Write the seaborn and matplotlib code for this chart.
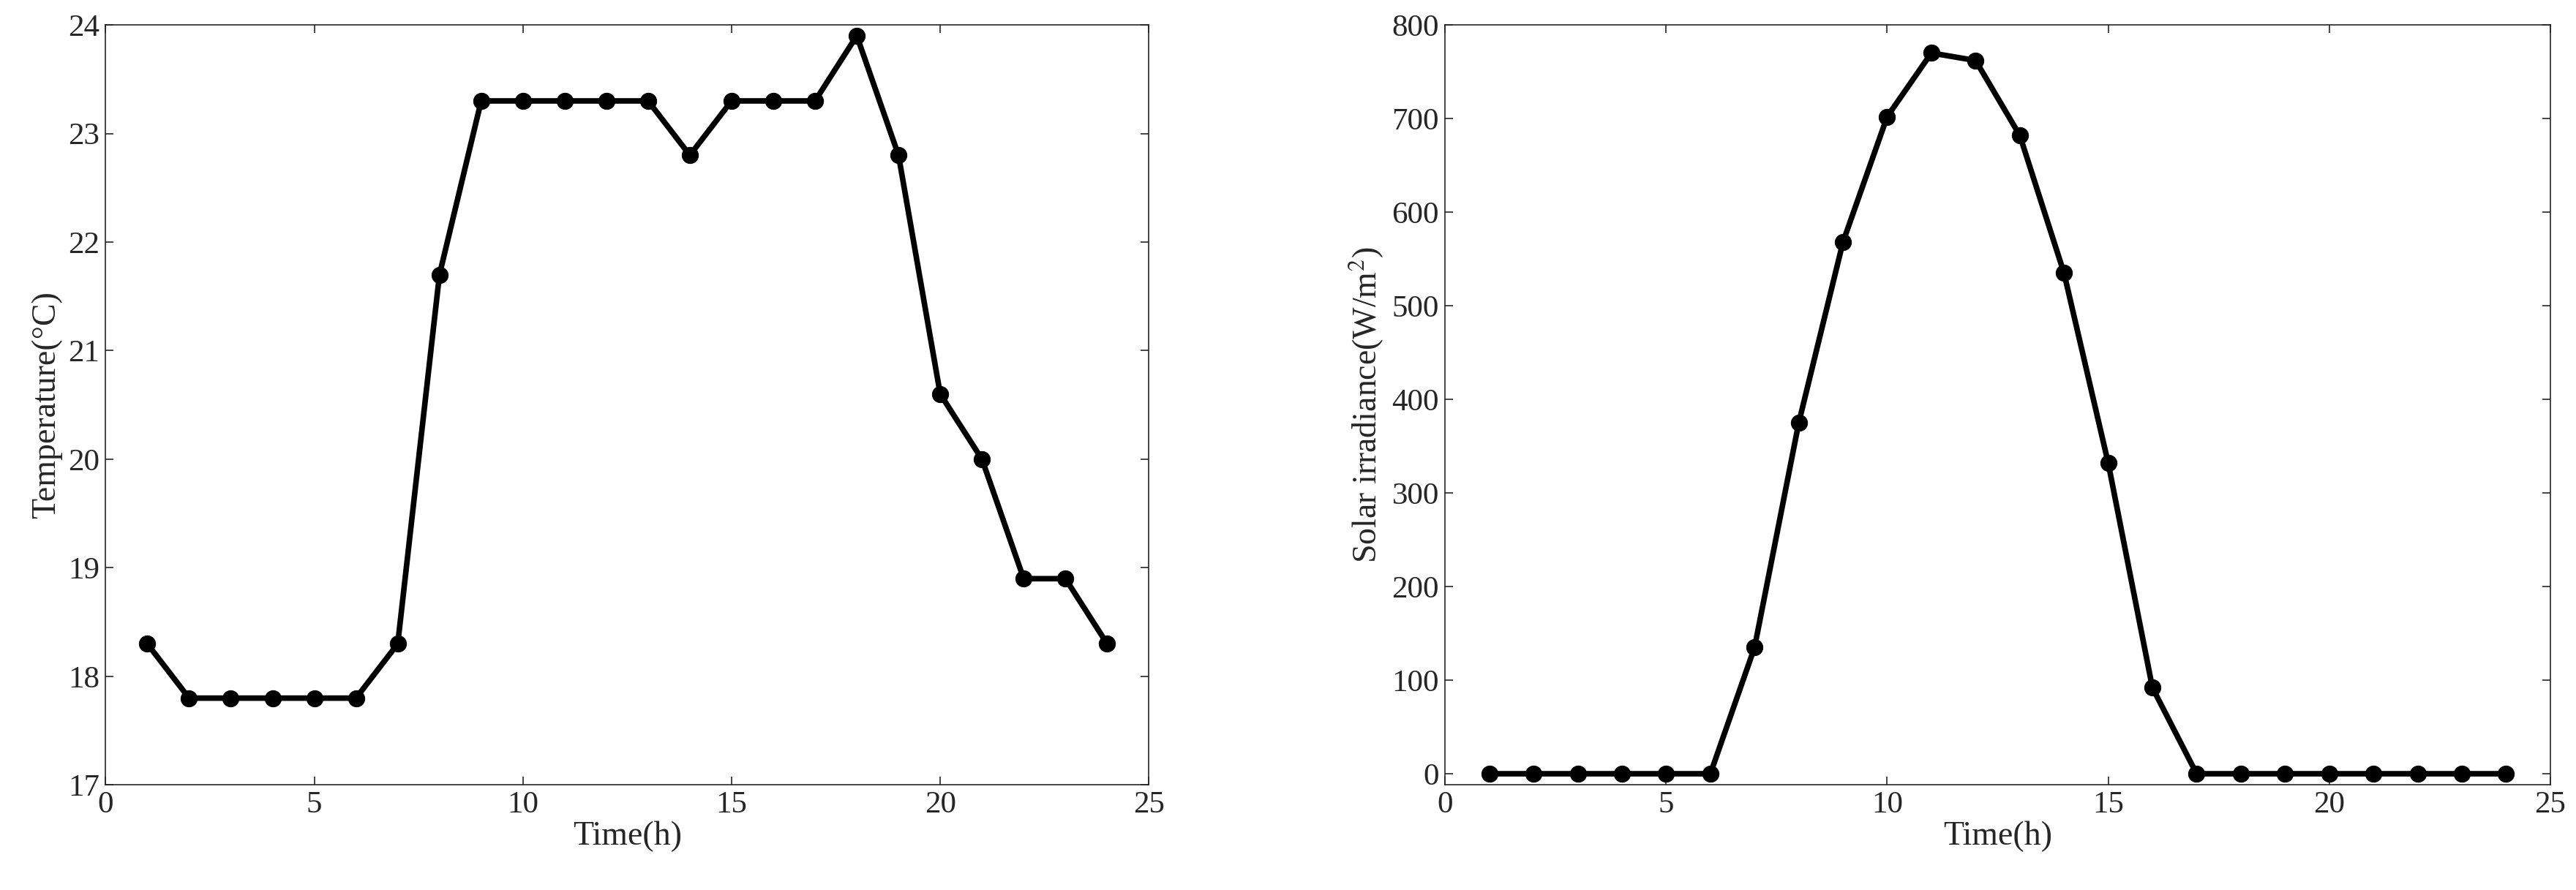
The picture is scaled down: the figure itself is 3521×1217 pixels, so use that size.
import matplotlib
matplotlib.use("Agg")
import matplotlib.pyplot as plt
import seaborn as sns
import pandas as pd

hours = list(range(1, 25))
temperature = [18.3, 17.8, 17.8, 17.8, 17.8, 17.8, 18.3, 21.7, 23.3, 23.3, 23.3, 23.3,
               23.3, 22.8, 23.3, 23.3, 23.3, 23.9, 22.8, 20.6, 20.0, 18.9, 18.9, 18.3]
irradiance = [0, 0, 0, 0, 0, 0, 135, 375, 568, 702, 770, 762,
              682, 535, 332, 92, 0, 0, 0, 0, 0, 0, 0, 0]

sns.set_style("ticks")
plt.rcParams['font.family'] = ['Liberation Serif', 'DejaVu Serif']
plt.rcParams['mathtext.fontset'] = 'stix'

df = pd.DataFrame({"h": hours, "t": temperature, "s": irradiance})
fig = plt.figure(figsize=(35.21, 12.17), dpi=100)
ax1 = fig.add_axes([0.041, 0.118, 0.405, 0.854])
ax2 = fig.add_axes([0.561, 0.118, 0.429, 0.854])

for ax, col in [(ax1, "t"), (ax2, "s")]:
    sns.lineplot(data=df, x="h", y=col, ax=ax, color="black", linewidth=5.5,
                 marker="o", markersize=16, markeredgecolor="black")
    ax.set_xlim(0, 25)
    ax.set_xticks([0, 5, 10, 15, 20, 25])
    ax.tick_params(labelsize=31, direction="in", length=8, width=1.2, top=True, right=True, pad=6)
    ax.set_xlabel("Time(h)", fontsize=33, labelpad=2)
    for s in ax.spines.values():
        s.set_linewidth(1.2)
        s.set_visible(True)

ax1.set_ylim(17, 24)
ax1.set_ylabel("Temperature(°C)", fontsize=33, labelpad=6)
ax2.set_ylim(-12, 800)
ax2.set_yticks(range(0, 801, 100))
ax2.set_ylabel("Solar irradiance(W/m$^2$)", fontsize=33, labelpad=6)

fig.savefig("out.png", dpi=100)
